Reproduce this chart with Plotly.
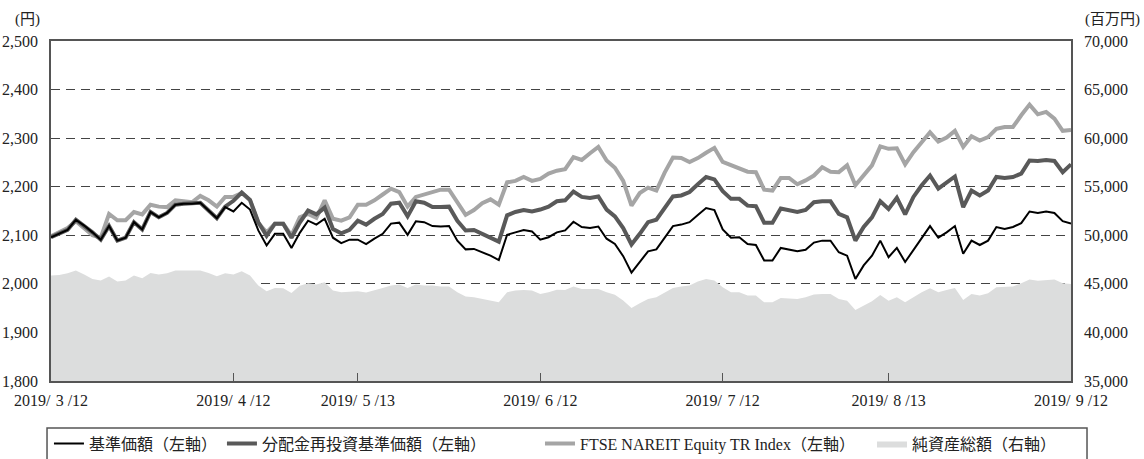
import plotly.graph_objects as go

# ---- trading days (categories) ----
mar_days = [12, 13, 14, 15, 18, 19, 20, 22, 25, 26, 27, 28, 29]
apr_days = [1, 2, 3, 4, 5, 8, 9, 10, 11, 12, 15, 16, 17, 18, 19, 22, 23, 24, 25, 26]
may_days = [7, 8, 9, 10, 13, 14, 15, 16, 17, 20, 21, 22, 23, 24, 27, 28, 29, 30, 31]
jun_days = [3, 4, 5, 6, 7, 10, 11, 12, 13, 14, 17, 18, 19, 20, 21, 24, 25, 26, 27, 28]
jul_days = [1, 2, 3, 4, 5, 8, 9, 10, 11, 12, 16, 17, 18, 19, 22, 23, 24, 25, 26, 29, 30, 31]
aug_days = [1, 2, 5, 6, 7, 8, 9, 13, 14, 15, 16, 19, 20, 21, 22, 23, 26, 27, 28, 29, 30]
sep_days = [2, 3, 4, 5, 6, 9, 10, 11, 12]
month_days = [(3, mar_days), (4, apr_days), (5, may_days), (6, jun_days),
              (7, jul_days), (8, aug_days), (9, sep_days)]
dates = [f"2019-{m:02d}-{d:02d}" for m, ds in month_days for d in ds]

tick_dates = ["2019-03-12", "2019-04-12", "2019-05-13", "2019-06-12",
              "2019-07-12", "2019-08-13", "2019-09-12"]
tick_labels = ["2019/\u20043 /12", "2019/\u20044 /12", "2019/\u20045 /13", "2019/\u20046 /12",
               "2019/\u20047 /12", "2019/\u20048 /13", "2019/\u20049 /12"]

# ---- series (円) ----
nav = [2096, 2103, 2111, 2132, 2120, 2106, 2091, 2119, 2089, 2095, 2127, 2112, 2148, 2137, 2146, 2163,
       2165, 2165, 2167, 2151, 2135, 2158, 2149, 2167, 2153, 2110, 2079, 2103, 2103, 2074, 2105,
       2130, 2122, 2134, 2095, 2084, 2091, 2091, 2082, 2093, 2103, 2124, 2126, 2101, 2129, 2127, 2119,
       2118, 2119, 2089, 2071, 2072, 2065, 2058, 2049, 2101, 2106, 2111, 2108, 2091, 2096, 2106,
       2110, 2128, 2117, 2115, 2118, 2093, 2082, 2057, 2023, 2045, 2067, 2071, 2095, 2119, 2122, 2127,
       2142, 2156, 2152, 2112, 2095, 2096, 2082, 2080, 2048, 2048, 2074, 2071, 2067, 2070, 2085,
       2089, 2089, 2065, 2058, 2010, 2038, 2058, 2089, 2055, 2074, 2045, 2070, 2096, 2119, 2095, 2106,
       2119, 2062, 2089, 2080, 2089, 2117, 2113, 2117, 2125, 2149, 2146, 2149, 2146, 2129, 2124]

nav_reinvested = [2096, 2103, 2111, 2132, 2120, 2106, 2091, 2119, 2089, 2095, 2127, 2112, 2148, 2137, 2146, 2163,
                  2165, 2165, 2167, 2151, 2135, 2159, 2171, 2188, 2173, 2127, 2099, 2124, 2124, 2095, 2126,
                  2151, 2143, 2157, 2113, 2104, 2111, 2130, 2122, 2134, 2144, 2165, 2167, 2139, 2170, 2167, 2158,
                  2158, 2159, 2130, 2110, 2111, 2103, 2096, 2087, 2141, 2148, 2152, 2149, 2153, 2159, 2170,
                  2172, 2190, 2179, 2177, 2180, 2153, 2139, 2115, 2081, 2103, 2127, 2132, 2155, 2180, 2182, 2189,
                  2205, 2220, 2215, 2191, 2175, 2175, 2161, 2160, 2126, 2126, 2155, 2151, 2148, 2152, 2168,
                  2170, 2170, 2144, 2137, 2089, 2117, 2137, 2170, 2154, 2177, 2143, 2179, 2203, 2223, 2196, 2209,
                  2221, 2158, 2192, 2182, 2192, 2220, 2218, 2220, 2227, 2254, 2253, 2255, 2253, 2230, 2246]

ftse_nareit = [2098, 2106, 2115, 2129, 2115, 2100, 2095, 2144, 2131, 2131, 2148, 2143, 2163, 2159, 2158, 2172,
               2170, 2168, 2181, 2172, 2159, 2179, 2179, 2187, 2172, 2125, 2106, 2124, 2124, 2100, 2137,
               2144, 2136, 2172, 2134, 2130, 2137, 2163, 2163, 2172, 2184, 2196, 2189, 2159, 2179, 2184, 2189,
               2194, 2194, 2168, 2142, 2152, 2166, 2174, 2163, 2209, 2212, 2220, 2212, 2216, 2227, 2233,
               2236, 2261, 2255, 2269, 2282, 2254, 2239, 2212, 2161, 2187, 2198, 2192, 2229, 2260, 2259, 2251,
               2259, 2270, 2280, 2251, 2244, 2238, 2231, 2230, 2194, 2192, 2218, 2218, 2205, 2213, 2223,
               2240, 2231, 2230, 2244, 2203, 2223, 2244, 2283, 2278, 2279, 2246, 2271, 2293, 2312, 2293, 2301,
               2315, 2282, 2304, 2295, 2302, 2319, 2323, 2323, 2347, 2369, 2349, 2354, 2340, 2315, 2317]

# ---- net assets (百万円) ----
net_assets = [45850, 45920, 46090, 46370, 45960, 45510, 45340, 45750, 45240, 45340, 45850, 45580, 46130,
              45960, 46090, 46370, 46370, 46370, 46370, 46130, 45790, 46090, 45960, 46300, 45850, 44820,
              44240, 44580, 44550, 44070, 44800,
              45060, 44930, 45170, 44310, 44140, 44200, 44240, 44100, 44380, 44580, 44820, 44930, 44580,
              44930, 44820, 44820, 44720, 44720, 44140, 43690, 43620, 43450, 43350, 43110, 44140, 44310,
              44380, 44310, 43960, 44140, 44400,
              44380, 44720, 44480, 44480, 44480, 44130, 43890, 43280, 42520, 43000, 43450, 43620, 44130,
              44580, 44720, 44820, 45230, 45510, 45340, 44650, 44130, 44130, 43790, 43790, 43100, 43100,
              43550, 43520, 43450, 43620, 43900,
              43960, 43960, 43450, 43270, 42310, 42760, 43200, 43860, 43270, 43620, 43100, 43620, 44130,
              44540, 44130, 44370, 44580, 43340, 43960, 43790, 44030, 44650, 44650, 44720, 45060, 45440,
              45330, 45400, 45440, 45060, 44990]

serif = "Liberation Serif, 'Noto Sans CJK JP', serif"
axis_col = "#555555"

fig = go.Figure()

fig.add_trace(go.Scatter(
    x=dates, y=net_assets, name="純資産総額（右軸）", mode="lines",
    line=dict(width=0, color="#dcdddd"), fill="tozeroy", fillcolor="#dcdddd",
    yaxis="y", legend="legend4"))
fig.add_trace(go.Scatter(
    x=dates, y=ftse_nareit, name="FTSE NAREIT Equity TR Index（左軸）", mode="lines",
    line=dict(width=4, color="#a5a5a5"), yaxis="y2", legend="legend3"))
fig.add_trace(go.Scatter(
    x=dates, y=nav_reinvested, name="分配金再投資基準価額（左軸）", mode="lines",
    line=dict(width=4, color="#595959"), yaxis="y2", legend="legend2"))
fig.add_trace(go.Scatter(
    x=dates, y=nav, name="基準価額（左軸）", mode="lines",
    line=dict(width=2, color="#000000"), yaxis="y2", legend="legend"))


def legend_at(xp):
    return dict(orientation="h", x=xp, xanchor="left", y=-0.134, yanchor="top",
                bgcolor="rgba(0,0,0,0)", borderwidth=0,
                font=dict(family=serif, size=16), itemwidth=30)


fig.update_layout(
    width=1144, height=459,
    margin=dict(l=51, r=73, t=41, b=78, autoexpand=False),
    paper_bgcolor="white", plot_bgcolor="white",
    font=dict(family=serif, size=16, color="#222222"),
    showlegend=True,
    legend=legend_at(-0.002),
    legend2=legend_at(0.1676),
    legend3=legend_at(0.4794),
    legend4=legend_at(0.8049),
    xaxis=dict(type="category", categoryorder="array", categoryarray=dates,
               range=[0, len(dates) - 1], tickmode="array", tickvals=tick_dates, ticktext=tick_labels,
               ticks="inside", ticklen=8, tickwidth=1.2, tickcolor=axis_col,
               showline=True, linecolor=axis_col, linewidth=1.5, mirror=True,
               showgrid=False, zeroline=False, tickfont=dict(size=16), ticklabelstandoff=4),
    yaxis=dict(side="right", range=[35000, 70000], dtick=5000, tickformat=",",
               showline=True, linecolor=axis_col, linewidth=1.5,
               showgrid=True, gridcolor="#444444", gridwidth=1.2, griddash="9px,6px",
               zeroline=False, ticks="", ticklabelstandoff=8),
    yaxis2=dict(side="left", overlaying="y", range=[1800, 2500], dtick=100, tickformat=",",
                showline=True, linecolor=axis_col, linewidth=1.5,
                showgrid=False, zeroline=False, ticks="", ticklabelstandoff=8),
    shapes=[dict(type="rect", xref="paper", yref="paper", x0=-0.0039, x1=1.0157,
                 y0=-0.138, y1=-0.235, line=dict(color=axis_col, width=1.5),
                 fillcolor="rgba(0,0,0,0)", layer="below")],
    annotations=[
        dict(text="(円)", xref="paper", yref="paper", x=-0.037, y=1.064, showarrow=False,
             xanchor="left", yanchor="middle", font=dict(size=15)),
        dict(text="(百万円)", xref="paper", yref="paper", x=1.070, y=1.064, showarrow=False,
             xanchor="right", yanchor="middle", font=dict(size=15)),
    ],
)

fig.write_html("out.html", config={"displayModeBar": False},
               post_script="document.body.style.margin='0px';document.body.style.overflow='hidden';")
